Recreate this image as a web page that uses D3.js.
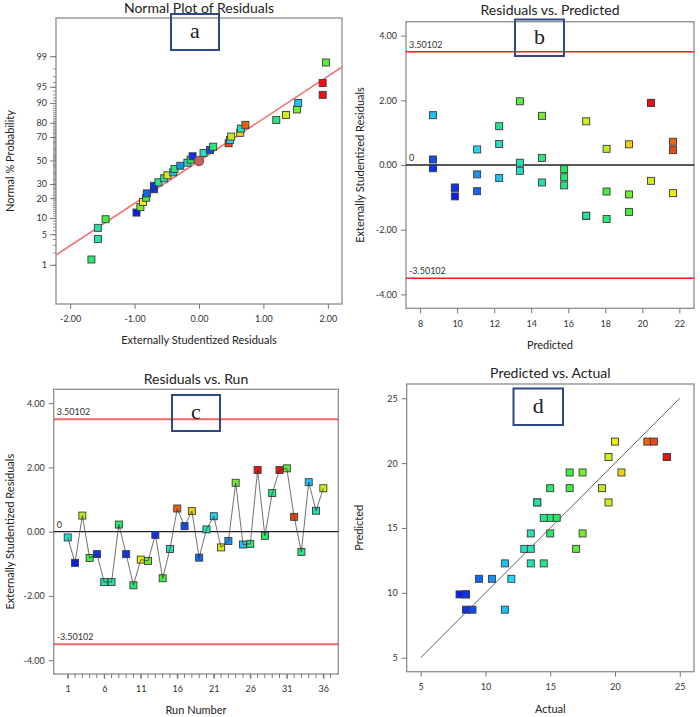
<!DOCTYPE html>
<html><head><meta charset="utf-8">
<script src="https://cdn.jsdelivr.net/npm/d3@7/dist/d3.min.js"></script>
<style>body{margin:0;background:#fff}svg{display:block}</style>
</head><body>
<svg id="chart" width="700" height="717"></svg>
<script>
// ---------------- data ----------------
const runs      = [1,2,3,4,5,6,7,8,9,10,11,12,13,14,15,16,17,18,19,20,21,22,23,24,25,26,27,28,29,30,31,32,33,34,35,36];
const actual    = [13.0,8.0,19.0,16.5,8.5,14.0,14.0,15.0,8.5,15.0,20.0,17.5,8.5,16.5,13.5,22.5,9.0,20.5,9.5,13.5,12.0,19.5,10.5,17.5,11.5,15.0,24.0,15.5,14.5,24.0,17.0,23.0,14.5,11.5,13.5,19.5];
const predicted = [13.39,9.88,18.07,18.07,9.88,16.97,16.97,14.58,9.88,18.07,21.66,19.28,8.70,19.28,14.58,21.66,8.70,19.28,11.08,13.39,11.08,20.47,11.08,14.58,12.27,15.78,20.47,15.78,12.27,20.47,13.39,21.66,15.78,8.70,12.27,16.97];
const residuals = [-0.18,-0.97,0.50,-0.82,-0.70,-1.57,-1.57,0.22,-0.70,-1.67,-0.87,-0.91,-0.10,-1.45,-0.54,0.72,0.17,0.64,-0.81,0.07,0.48,-0.49,-0.29,1.52,-0.40,-0.38,1.92,-0.13,1.20,1.92,1.97,0.46,-0.63,1.54,0.65,1.35];
// normal % probability of each point, in order of increasing residual
const normProb  = [1.4,4.1,6.8,9.7,12.5,15.2,18.0,20.6,23.5,26.4,29.0,31.7,35.0,37.5,40.0,43.0,45.8,48.5,51.2,54.2,57.0,59.7,62.5,65.4,68.0,70.7,73.5,76.5,79.0,82.0,84.8,87.5,90.2,93.0,95.9,98.6];
const fitResid  = [-2.22, 2.22];
const fitProb   = [1.8, 98.2];
const centerPt  = [0, 50];
const limitHi   = 3.50102;
const limitLo   = -3.50102;
const diagLine  = [5, 25];

const probTicks   = [1,5,10,20,30,50,70,80,90,95,99];
const residTicksA = [-2,-1,0,1,2];
const residTicks  = [-4,-2,0,2,4];
const predTicks   = [8,10,12,14,16,18,20,22];
const runTicks    = [1,6,11,16,21,26,31,36];
const actTicks    = [5,10,15,20,25];

const colorStops  = [8,12,16,20,24];
const colorRange  = ["#0a1ef0","#22d8f4","#2aee48","#ecec10","#f01010"];

// ---------------- helpers ----------------
const svg = d3.select("#chart");
const FONT = "Lato, 'Open Sans', sans-serif";
const color = d3.scaleLinear().domain(colorStops).range(colorRange);
const fmt2 = v => v.toFixed(2);

function invNorm(p){ // inverse standard normal CDF (Acklam)
  const a=[-39.69683028665376,220.9460984245205,-275.9285104469687,138.3577518672690,-30.66479806614716,2.506628277459239];
  const b=[-54.47609879822406,161.5858368580409,-155.6989798598866,66.80131188771972,-13.28068155288572];
  const c=[-0.007784894002430293,-0.3223964580411365,-2.400758277161838,-2.549732539343734,4.374664141464968,2.938163982698783];
  const d=[0.007784695709041462,0.3224671290700398,2.445134137142996,3.754408661907416];
  const pl=0.02425, ph=1-pl; let q,r;
  if(p<pl){q=Math.sqrt(-2*Math.log(p));return (((((c[0]*q+c[1])*q+c[2])*q+c[3])*q+c[4])*q+c[5])/((((d[0]*q+d[1])*q+d[2])*q+d[3])*q+1);}
  if(p<=ph){q=p-0.5;r=q*q;return (((((a[0]*r+a[1])*r+a[2])*r+a[3])*r+a[4])*r+a[5])*q/(((((b[0]*r+b[1])*r+b[2])*r+b[3])*r+b[4])*r+1);}
  q=Math.sqrt(-2*Math.log(1-p));return -(((((c[0]*q+c[1])*q+c[2])*q+c[3])*q+c[4])*q+c[5])/((((d[0]*q+d[1])*q+d[2])*q+d[3])*q+1);
}

function styleAxis(g){
  g.select(".domain").remove();
  g.selectAll(".tick line").attr("stroke","#777");
  g.selectAll(".tick text").attr("fill","#333").style("font-family",FONT).style("font-size","9px");
}
function frame(L){
  svg.append("rect").attr("x",L.x0).attr("y",L.y0).attr("width",L.x1-L.x0).attr("height",L.y1-L.y0)
    .attr("fill","none").attr("stroke","#8c8c8c").attr("stroke-width",1.3);
}
function titles(L,title,tY,xt,xtY,yt,ytX){
  const cx=(L.x0+L.x1)/2, cy=(L.y0+L.y1)/2;
  svg.append("text").attr("x",cx).attr("y",tY).attr("text-anchor","middle")
    .style("font-family",FONT).style("font-size","14px").attr("fill","#222").text(title);
  svg.append("text").attr("x",cx).attr("y",xtY).attr("text-anchor","middle")
    .style("font-family",FONT).style("font-size","11px").attr("fill","#222").text(xt);
  svg.append("text").attr("transform",`translate(${ytX},${cy}) rotate(-90)`).attr("text-anchor","middle")
    .style("font-family",FONT).style("font-size","11px").attr("fill","#222").text(yt);
}
function tagBox(x,y,w,h,letter){
  svg.append("rect").attr("x",x).attr("y",y).attr("width",w).attr("height",h)
    .attr("fill","none").attr("stroke","#2d4a86").attr("stroke-width",2);
  svg.append("text").attr("x",x+w/2).attr("y",y+h/2+6).attr("text-anchor","middle")
    .style("font-family","'Liberation Serif', 'DejaVu Serif', serif").style("font-size","22px").attr("fill","#222").text(letter);
}
function squares(g, pts, sx, sy){
  g.selectAll("rect.pt").data(pts).enter().append("rect").attr("class","pt")
    .attr("x",d=>sx(d.x)-3.5).attr("y",d=>sy(d.y)-3.5).attr("width",7).attr("height",7)
    .attr("fill",d=>color(d.act)).attr("stroke","#3a3a3a").attr("stroke-width",0.9);
}
function limitLines(L,sx,sy,col,w){
  [limitHi,limitLo].forEach(v=>{
    svg.append("line").attr("x1",L.x0).attr("x2",L.x1).attr("y1",sy(v)).attr("y2",sy(v)).attr("stroke",col).attr("stroke-width",w);
    svg.append("text").attr("x",L.x0+3).attr("y",sy(v)-4).style("font-family",FONT).style("font-size","9px").attr("fill","#333").text(v.toFixed(5));
  });
  svg.append("line").attr("x1",L.x0).attr("x2",L.x1).attr("y1",sy(0)).attr("y2",sy(0)).attr("stroke","#222").attr("stroke-width",1.4);
  svg.append("text").attr("x",L.x0+3).attr("y",sy(0)-4).style("font-family",FONT).style("font-size","9px").attr("fill","#333").text("0");
}

const rows = runs.map((r,i)=>({run:r, act:actual[i], pred:predicted[i], res:residuals[i]}));

// ---------------- (a) Normal plot ----------------
{
  const L={x0:56,y0:18,x1:342,y1:304};
  const sx=d3.scaleLinear().domain([-2.22,2.22]).range([L.x0,L.x1]);
  const sy=d3.scaleLinear().domain([-3.19,3.19]).range([L.y1,L.y0]);
  const py=p=>sy(invNorm(p/100));
  frame(L);
  const gx=svg.append("g").attr("transform",`translate(0,${L.y1})`)
    .call(d3.axisBottom(sx).tickValues(residTicksA).tickFormat(fmt2).tickSize(5).tickPadding(7));
  styleAxis(gx);
  // minor ticks on the probability axis
  svg.append("g").selectAll("line").data(d3.range(1,100)).enter().append("line")
    .attr("x1",L.x0-3).attr("x2",L.x0).attr("y1",d=>py(d)).attr("y2",d=>py(d)).attr("stroke","#777").attr("stroke-width",0.8);
  const gyl=svg.append("g");
  probTicks.forEach(p=>{
    gyl.append("line").attr("x1",L.x0-6).attr("x2",L.x0).attr("y1",py(p)).attr("y2",py(p)).attr("stroke","#777");
    gyl.append("text").attr("x",L.x0-9).attr("y",py(p)).attr("dy","0.32em").attr("text-anchor","end")
      .style("font-family",FONT).style("font-size","9px").attr("fill","#333").text(p);
  });
  svg.append("clipPath").attr("id","clipA").append("rect").attr("x",L.x0).attr("y",L.y0).attr("width",L.x1-L.x0).attr("height",L.y1-L.y0);
  svg.append("line").attr("clip-path","url(#clipA)")
    .attr("x1",sx(fitResid[0])).attr("y1",py(fitProb[0])).attr("x2",sx(fitResid[1])).attr("y2",py(fitProb[1]))
    .attr("stroke","#f27474").attr("stroke-width",1.6);
  const sorted=d3.sort(rows,d=>d.res);
  const pts=sorted.map((d,i)=>({x:d.res,y:invNorm(normProb[i]/100),act:d.act}));
  squares(svg.append("g"),pts,sx,sy);
  svg.append("circle").attr("cx",sx(centerPt[0])).attr("cy",py(centerPt[1])).attr("r",4.8)
    .attr("fill","#c4605e").attr("stroke","#6a3a3a").attr("stroke-width",0.8);
  titles(L,"Normal Plot of Residuals",13,"Externally Studentized Residuals",344,"Normal % Probability",13.5);
  tagBox(171,14,48,36,"a");
}

// ---------------- (b) Residuals vs Predicted ----------------
{
  const L={x0:406,y0:21.7,x1:694,y1:308.3};
  const sx=d3.scaleLinear().domain([7.24,22.79]).range([L.x0,L.x1]);
  const sy=d3.scaleLinear().domain([-4.43,4.43]).range([L.y1,L.y0]);
  frame(L);
  styleAxis(svg.append("g").attr("transform",`translate(0,${L.y1})`).call(d3.axisBottom(sx).tickValues(predTicks).tickSize(5).tickPadding(7)));
  styleAxis(svg.append("g").attr("transform",`translate(${L.x0},0)`).call(d3.axisLeft(sy).tickValues(residTicks).tickFormat(fmt2).tickSize(5).tickPadding(4)));
  limitLines(L,sx,sy,"#ff1a1a",1.5);
  squares(svg.append("g"),rows.map(d=>({x:d.pred,y:d.res,act:d.act})),sx,sy);
  titles(L,"Residuals vs. Predicted",15,"Predicted",349,"Externally Studentized Residuals",363.5);
  tagBox(515,19.5,49,36.5,"b");
}

// ---------------- (c) Residuals vs Run ----------------
{
  const L={x0:53.7,y0:389.3,x1:338.3,y1:674};
  const sx=d3.scaleLinear().domain([-0.92,38.05]).range([L.x0,L.x1]);
  const sy=d3.scaleLinear().domain([-4.43,4.43]).range([L.y1,L.y0]);
  frame(L);
  svg.append("g").selectAll("line").data(d3.range(1,38)).enter().append("line")
    .attr("x1",d=>sx(d)).attr("x2",d=>sx(d)).attr("y1",L.y1).attr("y2",L.y1+4).attr("stroke","#777");
  styleAxis(svg.append("g").attr("transform",`translate(0,${L.y1})`).call(d3.axisBottom(sx).tickValues(runTicks).tickSize(5).tickPadding(7)));
  styleAxis(svg.append("g").attr("transform",`translate(${L.x0},0)`).call(d3.axisLeft(sy).tickValues(residTicks).tickFormat(fmt2).tickSize(5).tickPadding(4)));
  limitLines(L,sx,sy,"#f06464",2);
  squares(svg.append("g"),rows.map(d=>({x:d.run,y:d.res,act:d.act})),sx,sy);
  svg.append("path").datum(rows).attr("fill","none").attr("stroke","#333").attr("stroke-width",0.7)
    .attr("d",d3.line().x(d=>sx(d.run)).y(d=>sy(d.res)));
  titles(L,"Residuals vs. Run",384,"Run Number",714,"Externally Studentized Residuals",13.5);
  tagBox(172,395,48,36,"c");
}

// ---------------- (d) Predicted vs Actual ----------------
{
  const L={x0:406.7,y0:384,x1:694,y1:671.7};
  const sx=d3.scaleLinear().domain([3.92,26.1]).range([L.x0,L.x1]);
  const sy=d3.scaleLinear().domain([3.92,26.1]).range([L.y1,L.y0]);
  frame(L);
  styleAxis(svg.append("g").attr("transform",`translate(0,${L.y1})`).call(d3.axisBottom(sx).tickValues(actTicks).tickSize(5).tickPadding(7)));
  styleAxis(svg.append("g").attr("transform",`translate(${L.x0},0)`).call(d3.axisLeft(sy).tickValues(actTicks).tickSize(5).tickPadding(4)));
  svg.append("line").attr("x1",sx(diagLine[0])).attr("y1",sy(diagLine[0])).attr("x2",sx(diagLine[1])).attr("y2",sy(diagLine[1]))
    .attr("stroke","#666").attr("stroke-width",1);
  squares(svg.append("g"),rows.map(d=>({x:d.act,y:d.pred,act:d.act})),sx,sy);
  titles(L,"Predicted vs. Actual",378.3,"Actual",712.7,"Predicted",363);
  tagBox(513.5,388.5,49.5,36.5,"d");
}
</script>
</body></html>
